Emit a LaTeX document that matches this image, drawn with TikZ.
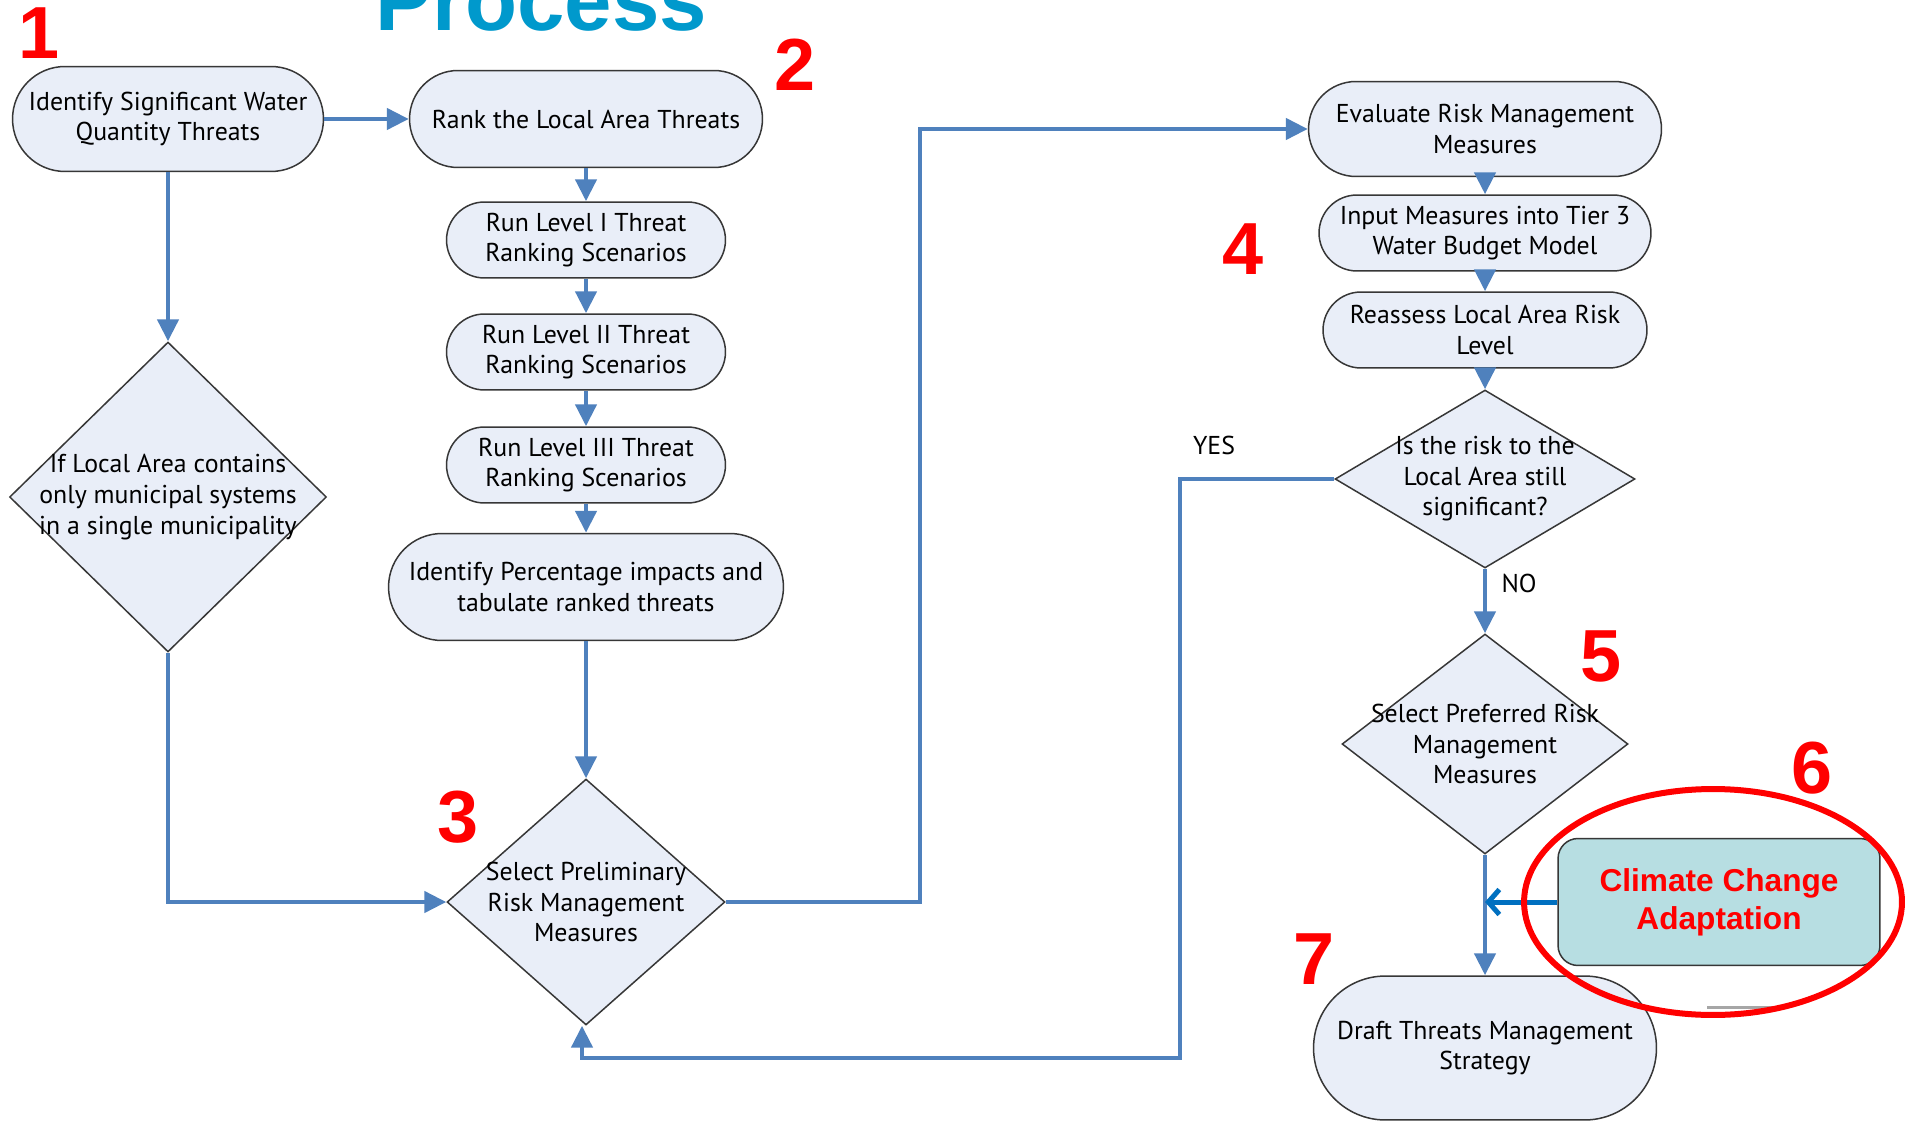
\documentclass[tikz,border=0pt]{standalone}
\usepackage{fontspec}
\setmainfont{PT Sans}
\newfontfamily\headfont{Liberation Sans}
\usepackage{tikz}
\usetikzlibrary{shapes.geometric,shapes.misc,arrows.meta}

\definecolor{boxfill}{RGB}{233,238,248}
\definecolor{boxline}{RGB}{55,55,55}
\definecolor{flowblue}{RGB}{79,129,189}
\definecolor{titleblue}{RGB}{0,153,204}
\definecolor{ccfill}{RGB}{183,222,226}
\definecolor{ccarrow}{RGB}{0,112,192}

\tikzset{
    term/.style={rounded rectangle, draw=boxline, fill=boxfill, line width=0.03cm,
        align=center, inner sep=0pt, font=\fontsize{14.7}{17.4}\selectfont},
    decide/.style={diamond, draw=boxline, fill=boxfill, line width=0.03cm, inner sep=0pt},
    dtext/.style={align=center, inner sep=0pt, font=\fontsize{14.7}{17.4}\selectfont},
    flowline/.style={draw=flowblue, line width=0.09cm, -{Triangle[length=0.44cm,width=0.42cm]}},
    bignum/.style={text=red, inner sep=0pt, font=\headfont\bfseries\fontsize{42}{42}\selectfont}
}

\begin{document}
\begin{tikzpicture}[x=0.02cm,y=-0.02cm]

    \useasboundingbox[fill=white] (0,0) rectangle (1912,1121);

    \node[anchor=base, inner sep=0pt, text=titleblue, font=\headfont\bfseries\fontsize{48.5}{49}\selectfont] (title) at (541,31) {Process};

    % first column
    \node[term, minimum width=6.22cm, minimum height=2.1cm] (ident) at (168,119) {Identify Significant Water\\Quantity Threats};
    \node[decide, minimum width=6.34cm, minimum height=6.2cm,
        label={[dtext]center:{If Local Area contains\\only municipal systems\\in a single municipality}}] (local) at (168,497) {};

    % ranking column
    \node[term, minimum width=7.06cm, minimum height=1.94cm] (rank) at (586,119) {Rank the Local Area Threats};
    \node[term, minimum width=5.58cm, minimum height=1.52cm] (lvlone) at (586,240) {Run Level I Threat\\Ranking Scenarios};
    \node[term, minimum width=5.58cm, minimum height=1.52cm] (lvltwo) at (586,352) {Run Level II Threat\\Ranking Scenarios};
    \node[term, minimum width=5.58cm, minimum height=1.52cm] (lvlthree) at (586,465) {Run Level III Threat\\Ranking Scenarios};
    \node[term, minimum width=7.9cm, minimum height=2.14cm] (pct) at (586,587) {Identify Percentage impacts and\\tabulate ranked threats};
    \node[decide, minimum width=5.56cm, minimum height=4.92cm,
        label={[dtext]center:{Select Preliminary\\Risk Management\\Measures}}] (prelim) at (586,902) {};

    % evaluation column
    \node[term, minimum width=7.06cm, minimum height=1.9cm] (eval) at (1485,129) {Evaluate Risk Management\\Measures};
    \node[term, minimum width=6.64cm, minimum height=1.52cm] (input) at (1485,233) {Input Measures into Tier 3\\Water Budget Model};
    \node[term, minimum width=6.48cm, minimum height=1.52cm] (reass) at (1485,330) {Reassess Local Area Risk\\Level};
    \node[decide, minimum width=6cm, minimum height=3.56cm,
        label={[dtext]center:{Is the risk to the\\Local Area still\\significant?}}] (still) at (1485,479) {};
    \node[decide, minimum width=5.72cm, minimum height=4.4cm,
        label={[dtext]center:{Select Preferred Risk\\Management\\Measures}}] (pref) at (1485,744) {};
    \node[term, minimum width=6.86cm, minimum height=2.88cm] (draft) at (1485,1048) {Draft Threats Management\\Strategy};

    \node[dtext] (yes) at (1214,445) {YES};
    \node[dtext] (no) at (1519,583) {NO};

    \coordinate (upturn) at (920,0);
    \coordinate (yesturn) at (1180,1058);

    \draw[flowline] (ident.east) -- (rank.west);
    \draw[flowline] (ident.south) -- (local.north);
    \draw[flowline] (local.south) |- (prelim.west);
    \draw[flowline] (rank.south) -- (lvlone.north);
    \draw[flowline] (lvlone.south) -- (lvltwo.north);
    \draw[flowline] (lvltwo.south) -- (lvlthree.north);
    \draw[flowline] (lvlthree.south) -- (pct.north);
    \draw[flowline] (pct.south) -- (prelim.north);
    \draw[flowline] (prelim.east) -| (upturn |- eval.west) -- (eval.west);
    \draw[flowline] (eval.south) -- (input.north);
    \draw[flowline] (input.south) -- (reass.north);
    \draw[flowline] (reass.south) -- (still.north);
    \draw[flowline] (still.south) -- (pref.north);
    \draw[flowline] (still.west) -| (yesturn) -| ([xshift=-0.08cm]prelim.south);
    \draw[flowline] (pref.south) -- (draft.north);

    % climate change box
    \node[draw=boxline, fill=ccfill, line width=0.03cm, rounded corners=0.4cm, minimum width=6.44cm, minimum height=2.54cm,
        align=center, text=red, font=\headfont\bfseries\fontsize{18}{21.5}\selectfont] (clim) at (1719,902) {Climate Change\\Adaptation};
    \draw[draw=ccarrow, line width=0.1cm, -{Straight Barb[length=0.22cm,width=0.5cm]}] (clim.west) -- (pref.south |- clim.west);

    \draw[gray!70, line width=0.06cm] (1707,1007) -- (1780,1007);
    \draw[red, line width=0.12cm] (1713,902) ellipse [x radius=3.78cm, y radius=2.26cm];

    \node[bignum] (one) at (39,33) {1};
    \node[bignum] (two) at (795,65) {2};
    \node[bignum] (three) at (458,817) {3};
    \node[bignum] (four) at (1243,249) {4};
    \node[bignum] (five) at (1601,656) {5};
    \node[bignum] (six) at (1812,768) {6};
    \node[bignum] (seven) at (1314,959) {7};
\end{tikzpicture}
\end{document}
